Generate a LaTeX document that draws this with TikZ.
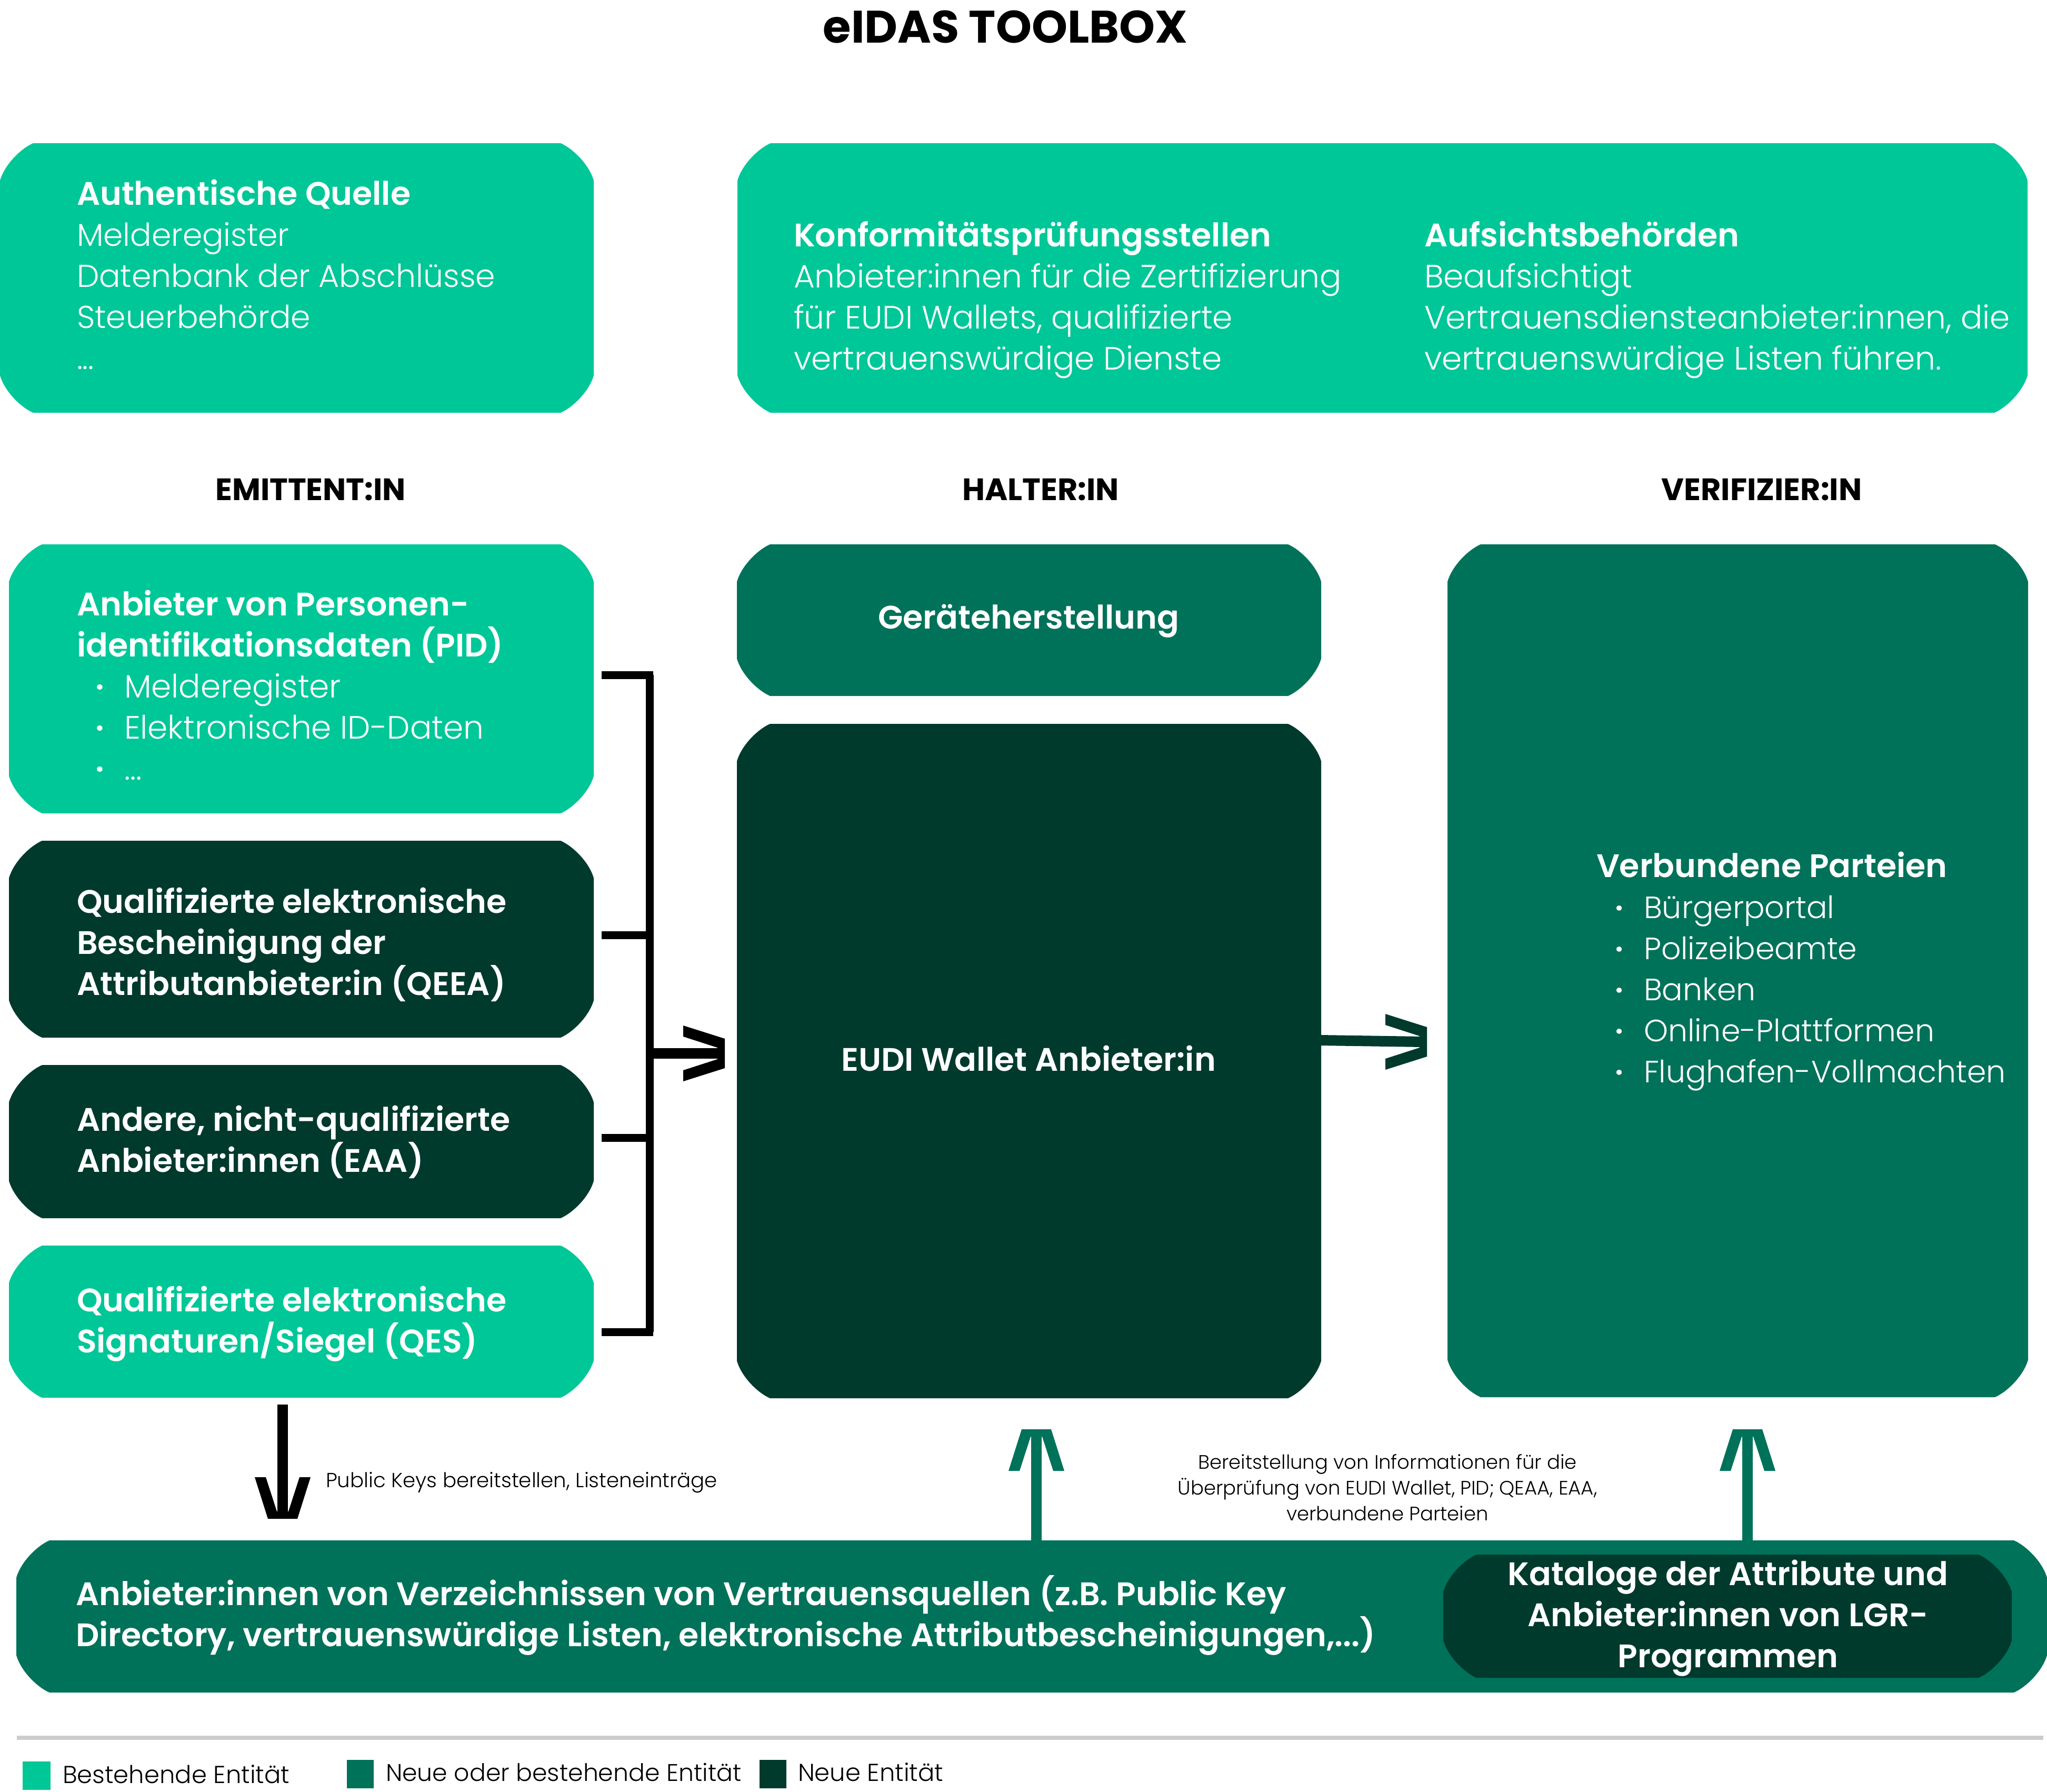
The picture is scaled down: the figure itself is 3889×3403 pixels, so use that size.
\documentclass[tikz,border=0pt]{standalone}
\usepackage{fontspec}
\setmainfont{Poppins Light}[BoldFont=Poppins SemiBold]
\newfontfamily\popb{Poppins}
\usetikzlibrary{calc}
\definecolor{lightg}{RGB}{0,199,152}
\definecolor{midg}{RGB}{0,114,89}
\definecolor{darkg}{RGB}{0,58,45}
\definecolor{rulegr}{RGB}{204,204,204}
\newcommand{\bodysize}{\fontsize{12.25}{15.6}\selectfont}
\newcommand{\bt}[1]{{\fontsize{12.35}{15.6}\selectfont\bfseries #1}}
\newcommand{\bul}[1]{\makebox[18pt][l]{\hspace*{7pt}\textbf{·}}#1}
\newcommand{\cbox}[6]{%
  \fill[#6] (#2+63,#3) -- (#4-63,#3) .. controls (#4-40,#3+10) and (#4-9,#3+40) .. (#4,#3+71)
    -- (#4,#5-71) .. controls (#4-9,#5-40) and (#4-40,#5-10) .. (#4-63,#5)
    -- (#2+63,#5) .. controls (#2+40,#5-10) and (#2+9,#5-40) .. (#2,#5-71)
    -- (#2,#3+71) .. controls (#2+9,#3+40) and (#2+40,#3+10) .. (#2+63,#3) -- cycle;
  \node[boxnode,minimum width={(#4-#2)*0.2pt},minimum height={(#5-#3)*0.2pt}] (#1) at ({(#2+#4)/2},{(#3+#5)/2}) {};}
\tikzset{
  boxnode/.style={rectangle,inner sep=0pt,outer sep=0pt},
  wtext/.style={inner sep=0pt,outer sep=0pt,text=white,align=left,anchor=base west,font=\bodysize},
  btext/.style={wtext,font=\fontsize{12.35}{15.6}\selectfont\bfseries},
  ctext/.style={btext,align=center,anchor=base},
  head/.style={inner sep=0pt,outer sep=0pt,anchor=base,font=\fontsize{11.75}{14}\selectfont\popb\bfseries},
  small/.style={inner sep=0pt,outer sep=0pt},
  legend/.style={inner sep=0pt,outer sep=0pt,anchor=base west,font=\fontsize{9.3}{11}\selectfont},
  blackline/.style={draw=black,line width=3pt},
  greenline/.style={draw=midg,line width=4pt},
  ohead/.pic={\path[pic actions] (-79,-53) -- (0,-28) -- (0,28) -- (-79,53) -- (-79,32) -- (-14,11) -- (-14,-11) -- (-79,-32) -- cycle;},
}
\begin{document}
\begin{tikzpicture}[x=0.2pt,y=-0.2pt]
\useasboundingbox (0,0) rectangle (3889,3403);
% boxes
\cbox{quelle}{0}{272}{1128}{784}{lightg}
\cbox{konf}{1401}{272}{3852}{784}{lightg}
\cbox{pid}{17}{1034}{1128}{1545}{lightg}
\cbox{qeea}{17}{1597}{1128}{1971}{darkg}
\cbox{eaa}{17}{2023}{1128}{2314}{darkg}
\cbox{qes}{17}{2366}{1128}{2655}{lightg}
\cbox{geraet}{1400}{1034}{2510}{1322}{midg}
\cbox{wallet}{1400}{1375}{2510}{2656}{darkg}
\cbox{parteien}{2750}{1034}{3853}{2654}{midg}
\cbox{bar}{31}{2926}{3889}{3215}{midg}
\cbox{katalog}{2742}{2953}{3822}{3187}{darkg}
% title and column heads
\node[inner sep=0pt,anchor=base,font=\fontsize{17.3}{20}\selectfont\popb\bfseries] (title) at (1910,81) {eIDAS TOOLBOX};
\node[head] (h1) at (590,950) {EMITTENT:IN};
\node[head] (h2) at (1977,950) {HALTER:IN};
\node[head] (h3) at (3347,950) {VERIFIZIER:IN};
% box texts
\node[wtext,font=\fontsize{12}{15.6}\selectfont] (tq) at (146,701) {\bt{Authentische Quelle}\\Melderegister\\Datenbank der Abschlüsse\\Steuerbehörde\\...};
\node[wtext] (tk) at (1508,702) {\bt{Konformitätsprüfungsstellen}\\Anbieter:innen für die Zertifizierung\\für EUDI Wallets, qualifizierte\\vertrauenswürdige Dienste};
\node[wtext] (ta) at (2706,702) {\bt{Aufsichtsbehörden}\\Beaufsichtigt\\Vertrauensdiensteanbieter:innen, die\\vertrauenswürdige Listen führen.};
\node[wtext] (tp) at (146,1481) {\bt{Anbieter von Personen-}\\\bt{identifikationsdaten (PID)}\\\bul{Melderegister}\\\bul{Elektronische ID-Daten}\\\bul{...}};
\node[btext] (tqe) at (146,1890) {Qualifizierte elektronische\\Bescheinigung der\\Attributanbieter:in (QEEA)};
\node[btext] (tea) at (146,2226) {Andere, nicht-qualifizierte\\Anbieter:innen (EAA)};
\node[btext] (tqs) at (146,2569) {Qualifizierte elektronische\\Signaturen/Siegel (QES)};
\node[ctext] (tg) at (1954,1194) {Geräteherstellung};
\node[ctext] (tw) at (1954,2034) {EUDI Wallet Anbieter:in};
\node[wtext,font=\fontsize{11.7}{15.6}\selectfont] (tv) at (3033,2056) {\bt{Verbundene Parteien}\\\bul{Bürgerportal}\\\bul{Polizeibeamte}\\\bul{Banken}\\\bul{Online-Plattformen}\\\bul{Flughafen-Vollmachten}};
\node[btext] (tb) at (144,3127) {Anbieter:innen von Verzeichnissen von Vertrauensquellen (z.B. Public Key\\Directory, vertrauenswürdige Listen, elektronische Attributbescheinigungen,...)};
\node[ctext] (tkat) at (3283,3167) {Kataloge der Attribute und\\Anbieter:innen von LGR-\\Programmen};
% small labels
\node[small,anchor=base west,font=\fontsize{7.75}{9.72}\selectfont] (lpk) at (619,2825) {Public Keys bereitstellen, Listeneinträge};
\node[small,align=center,anchor=base,font=\fontsize{7.4}{9.72}\selectfont] (lbe) at (2636,2888) {Bereitstellung von Informationen für die\\Überprüfung von EUDI Wallet, PID; QEAA, EAA,\\verbundene Parteien};
% bracket
\coordinate (b1a) at (1143,1282); \coordinate (b1b) at (1241,1282);
\coordinate (b2a) at (1143,1776); \coordinate (b2b) at (1234,1776);
\coordinate (b3a) at (1143,2161); \coordinate (b3b) at (1234,2161);
\coordinate (b4a) at (1143,2530); \coordinate (b4b) at (1241,2530);
\coordinate (bt) at (1234,1282); \coordinate (bb) at (1234,2530);
\draw[blackline] (b1a) -- (b1b);
\draw[blackline] (b2a) -- (b2b);
\draw[blackline] (b3a) -- (b3b);
\draw[blackline] (b4a) -- (b4b);
\draw[blackline] (bt) -- (bb);
% arrows
\coordinate (as) at (1234,2001); \coordinate (at) at (1377,2001);
\draw[draw=black,line width=4pt] (as) -- ($(at)+(-6,0)$);
\pic[fill=black] at (at) {ohead};
\coordinate (gs) at (2510,1976); \coordinate (gt) at (2711,1979);
\draw[draw=darkg,line width=4pt] (gs) -- ($(gt)+(-6,0)$);
\pic[fill=darkg] at (gt) {ohead};
\coordinate (ds) at (537,2668); \coordinate (dt) at (537,2885);
\draw[draw=black,line width=4pt] (ds) -- ($(dt)+(0,-6)$);
\pic[fill=black,rotate=-90] at (dt) {ohead};
\coordinate (u1) at (1969,2715); \coordinate (u1s) at (1969,2926);
\draw[greenline] (u1s) -- ($(u1)+(0,6)$);
\pic[fill=midg,rotate=90] at (u1) {ohead};
\coordinate (u2) at (3320,2715); \coordinate (u2s) at (3320,2926);
\draw[greenline] (u2s) -- ($(u2)+(0,6)$);
\pic[fill=midg,rotate=90] at (u2) {ohead};
% legend
\coordinate (r1) at (32,3301); \coordinate (r2) at (3882,3301);
\draw[draw=rulegr,line width=1.5pt] (r1) -- (r2);
\fill[lightg] (43,3346) rectangle (96,3400);
\fill[midg] (659,3343) rectangle (710,3397);
\fill[darkg] (1443,3343) rectangle (1494,3397);
\node[legend] (l1) at (119,3387) {Bestehende Entität};
\node[legend,font=\fontsize{9.15}{11}\selectfont] (l2) at (733,3383) {Neue oder bestehende Entität};
\node[legend] (l3) at (1516,3383) {Neue Entität};
\end{tikzpicture}
\end{document}
